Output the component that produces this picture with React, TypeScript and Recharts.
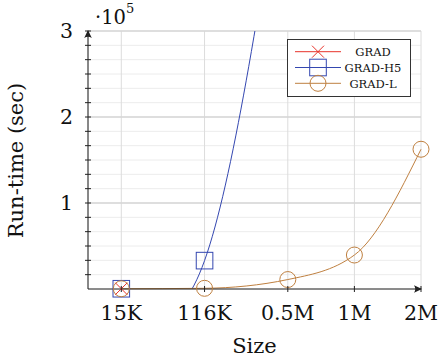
import React from 'react';
import { ComposedChart, Line, XAxis, YAxis, CartesianGrid, ReferenceLine, Legend } from 'recharts';

// ---- data ----
const sizeLabels = ['15K', '116K', '0.5M', '1M', '2M'];
const sizePos = [1, 2, 3, 3.8, 4.6];
const gradSec: (number | null)[] = [300, null, null, null, null];
const gradH5Sec: (number | null)[] = [300, 33000, 540000, null, null];
const gradLSec: (number | null)[] = [300, 800, 11000, 39500, 162500];
const yMax = 300000;
const yMajorTicks = [0, 100000, 200000, 300000];
const yMinorPerMajor = 6;

const yTicks: number[] = [];
for (let m = 0; m < yMajorTicks.length - 1; m++) {
  const a = yMajorTicks[m];
  const b = yMajorTicks[m + 1];
  for (let k = 0; k < yMinorPerMajor; k++) yTicks.push(a + ((b - a) * k) / yMinorPerMajor);
}
yTicks.push(yMajorTicks[yMajorTicks.length - 1]);

const data = sizeLabels.map((label, i) => ({
  label,
  pos: sizePos[i],
  grad: gradSec[i],
  h5: gradH5Sec[i],
  h5Marks: gradH5Sec[i] != null && (gradH5Sec[i] as number) <= yMax ? gradH5Sec[i] : null,
  gradL: gradLSec[i],
}));

const FONT = '"DejaVu Serif", serif';
const RED = '#e8332a';
const BLUE = '#3447b0';
const ORANGE = '#bf8040';

const CrossMark = ({ cx, cy, color = RED, s = 6 }: any) => (
  <g>
    <line x1={cx - s} y1={cy - s} x2={cx + s} y2={cy + s} stroke={color} strokeWidth={1} />
    <line x1={cx - s} y1={cy + s} x2={cx + s} y2={cy - s} stroke={color} strokeWidth={1} />
  </g>
);
const SquareMark = ({ cx, cy, color = BLUE, s = 8.3 }: any) => (
  <rect x={cx - s} y={cy - s} width={2 * s} height={2 * s} fill="none" stroke={color} strokeWidth={1} />
);
const CircleMark = ({ cx, cy, color = ORANGE, r = 8 }: any) => (
  <circle cx={cx} cy={cy} r={r} fill="none" stroke={color} strokeWidth={1} />
);

const dotFn = (Comp: any) => (props: any) => {
  const { cx, cy, index, value } = props;
  if (cx == null || cy == null || value == null || Number.isNaN(cy)) return <g key={`d-${index}`} />;
  return (
    <g key={`d-${index}`}>
      <Comp cx={cx} cy={cy} />
    </g>
  );
};

const XTick = (props: any) => {
  const { x, y, payload } = props;
  const i = sizePos.indexOf(payload.value);
  const last = payload.value === sizePos[sizePos.length - 1];
  return (
    <g>
      <line x1={x} y1={y - 3} x2={x} y2={y + 3} stroke="#222" strokeWidth={1} />
      {last && (
        <path d={`M ${x + 1} ${y} L ${x - 7} ${y - 3.8} Q ${x - 4.5} ${y} ${x - 7} ${y + 3.8} Z`} fill="#222" />
      )}
      <text x={x} y={y + 31} textAnchor="middle" fontFamily={FONT} fontSize={20.5} fill="#111">
        {i >= 0 ? sizeLabels[i] : ''}
      </text>
    </g>
  );
};

const YTick = (props: any) => {
  const { x, y, payload } = props;
  const v = payload.value;
  const isMajor = yMajorTicks.some((m) => Math.abs(m - v) < 1);
  const top = Math.abs(v - yMax) < 1;
  return (
    <g>
      {v > 0 && <line x1={x - 3} y1={y} x2={x + 3} y2={y} stroke="#222" strokeWidth={1} />}
      {top && <path d={`M ${x} ${y - 1} L ${x - 3.8} ${y + 7} Q ${x} ${y + 4.5} ${x + 3.8} ${y + 7} Z`} fill="#222" />}
      {isMajor && v > 0 && (
        <text x={x - 15} y={y + 7} textAnchor="end" fontFamily={FONT} fontSize={20.5} fill="#111">
          {String(Math.round(v / 100000))}
        </text>
      )}
    </g>
  );
};

const legendItems = [
  { name: 'GRAD', color: RED, Mark: CrossMark },
  { name: 'GRAD-H5', color: BLUE, Mark: SquareMark },
  { name: 'GRAD-L', color: ORANGE, Mark: CircleMark },
];

const LegendBox = () => (
  <div style={{ width: 124, height: 58, border: '1px solid #333', background: '#fff', boxSizing: 'border-box' }}>
    <svg width={122} height={56} style={{ display: 'block' }}>
      {legendItems.map((it, k) => {
        const cy = 11.7 + k * 15.8;
        return (
          <g key={it.name}>
            <line x1={7} y1={cy} x2={53} y2={cy} stroke={it.color} strokeWidth={1} />
            <it.Mark cx={30} cy={cy} color={it.color} />
            <text x={85} y={cy + 4.5} textAnchor="middle" fontFamily={FONT} fontSize={11.5} fill="#111">
              {it.name}
            </text>
          </g>
        );
      })}
    </svg>
  </div>
);

export default function App() {
  return (
    <div style={{ position: 'absolute', left: 0, top: 0, width: 440, height: 359, background: '#fff' }}>
      <ComposedChart width={440} height={359} data={data} margin={{ top: 31, right: 19, bottom: 0, left: 0 }}>
        <CartesianGrid horizontal={true} vertical={false} stroke="#ececec" yAxisId="y" />
        <CartesianGrid horizontal={false} vertical={true} stroke="#dcdcdc" yAxisId="y" />
        {yMajorTicks.slice(1).map((v) => (
          <ReferenceLine key={v} y={v} yAxisId="y" stroke="#d6d6d6" strokeWidth={1.3} ifOverflow="visible" />
        ))}
        <XAxis
          dataKey="pos"
          type="number"
          domain={[0.6, 4.6]}
          ticks={sizePos}
          interval={0}
          height={70}
          tickSize={0}
          tickMargin={0}
          tickLine={false}
          axisLine={{ stroke: '#222', strokeWidth: 1 }}
          tick={<XTick />}
          label={{
            content: () => (
              <text x={254.5} y={353} textAnchor="middle" fontFamily={FONT} fontSize={21} fill="#111">
                Size
              </text>
            ),
          }}
        />
        <YAxis
          yAxisId="y"
          type="number"
          domain={[0, yMax]}
          ticks={yTicks}
          interval={0}
          width={88}
          tickSize={0}
          tickMargin={0}
          tickLine={false}
          axisLine={{ stroke: '#222', strokeWidth: 1 }}
          tick={<YTick />}
          label={{
            content: () => (
              <g>
                <text
                  transform="translate(23,160.5) rotate(-90)"
                  x={0}
                  y={0}
                  textAnchor="middle"
                  fontFamily={FONT}
                  fontSize={21}
                  fill="#111"
                >
                  Run-time (sec)
                </text>
                <text x={95} y={24} fontFamily={FONT} fontSize={19.5} fill="#111">
                  ·10
                  <tspan fontSize={13} dy={-11}>
                    5
                  </tspan>
                </text>
              </g>
            ),
          }}
        />
        <YAxis yAxisId="yc" type="number" domain={[0, yMax]} allowDataOverflow hide />
        <Line
          yAxisId="yc"
          dataKey="h5"
          type="natural"
          stroke={BLUE}
          strokeWidth={1}
          dot={false}
          activeDot={false}
          isAnimationActive={false}
        />
        <Line
          yAxisId="y"
          dataKey="h5Marks"
          stroke="none"
          dot={dotFn(SquareMark)}
          activeDot={false}
          isAnimationActive={false}
        />
        <Line
          yAxisId="y"
          dataKey="gradL"
          type="monotone"
          stroke={ORANGE}
          strokeWidth={1}
          dot={dotFn(CircleMark)}
          activeDot={false}
          isAnimationActive={false}
        />
        <Line
          yAxisId="y"
          dataKey="grad"
          stroke={RED}
          strokeWidth={1}
          dot={dotFn(CrossMark)}
          activeDot={false}
          isAnimationActive={false}
        />
        <Legend
          layout="horizontal"
          align="center"
          verticalAlign="middle"
          content={() => <LegendBox />}
          wrapperStyle={{ left: 287, top: 39, width: 124, height: 58 }}
        />
      </ComposedChart>
    </div>
  );
}
